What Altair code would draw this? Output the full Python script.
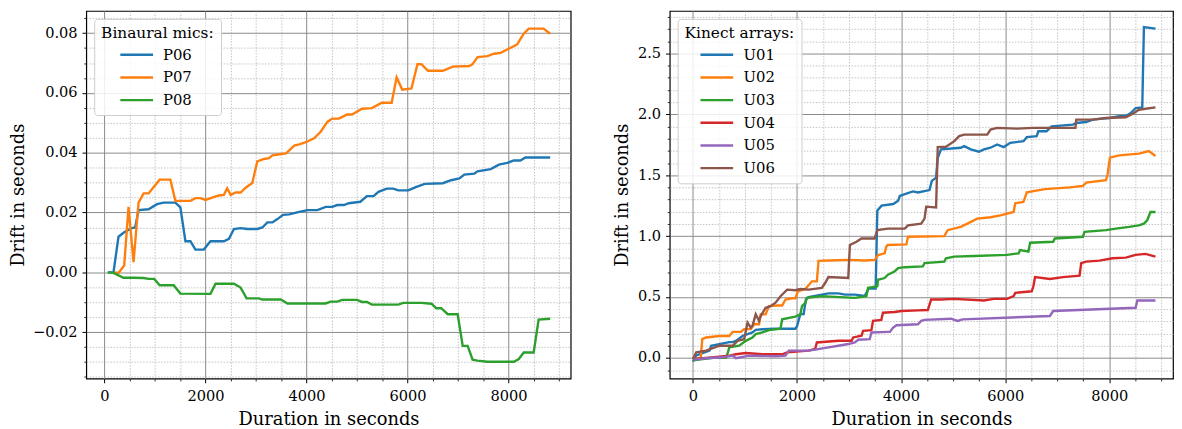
import altair as alt
import pandas as pd
import numpy as np

# ---------------- data ----------------
P06_X = [66, 179, 278, 391, 543, 609, 675, 874, 1040, 1170, 1404, 1503, 1603, 1702, 1801, 1967, 2099, 2364, 2464, 2563,
         2695, 2828, 3026, 3126, 3225, 3325, 3424, 3536, 3656, 3856, 4020, 4216, 4379, 4510, 4608, 4739, 4837, 5065, 5196, 5327,
         5425, 5588, 5719, 5817, 6013, 6176, 6340, 6699, 6863, 7026, 7124, 7320, 7386, 7647, 7810, 7974, 8105, 8235, 8333, 8824]
P06_Y = [0, 0, 0.0119, 0.0134, 0.0148, 0.015, 0.0208, 0.0211, 0.0228, 0.0233, 0.0233, 0.0217, 0.0104, 0.0104, 0.0076,
         0.0076, 0.0104, 0.0104, 0.0112, 0.0145, 0.0148, 0.0145, 0.0145, 0.015, 0.0167, 0.0167, 0.0178, 0.0192, 0.0194, 0.0202,
         0.0208, 0.0208, 0.0219, 0.0219, 0.0225, 0.0225, 0.0231, 0.0236, 0.0255, 0.0255, 0.0269, 0.028, 0.028, 0.0274, 0.0274,
         0.0286, 0.0296, 0.0298, 0.0308, 0.0314, 0.0327, 0.033, 0.0338, 0.0345, 0.036, 0.0366, 0.0374, 0.0374, 0.0384, 0.0384]

P07_X = [200, 278, 391, 477, 576, 675, 775, 874, 987, 1093, 1305, 1404, 1702, 1801, 1901, 2000, 2132, 2265, 2364, 2430,
         2497, 2596, 2695, 2795, 2927, 3026, 3159, 3258, 3325, 3464, 3595, 3758, 3856, 3987, 4150, 4281, 4412, 4510, 4641, 4804,
         4902, 5098, 5294, 5490, 5686, 5784, 5895, 6078, 6196, 6275, 6405, 6699, 6895, 7222, 7288, 7386, 7582, 7712, 7843, 7974,
         8170, 8301, 8399, 8693, 8824]
P07_Y = [0, -0.0002, 0.0023, 0.0219, 0.0034, 0.0233, 0.0264, 0.0264, 0.0288, 0.031, 0.031, 0.0239, 0.0239, 0.0248, 0.0248,
         0.0242, 0.025, 0.0257, 0.0259, 0.0281, 0.0259, 0.0267, 0.0267, 0.0283, 0.0299, 0.0371, 0.0379, 0.0382, 0.0391, 0.0395,
         0.0398, 0.0424, 0.0428, 0.0435, 0.0448, 0.047, 0.0503, 0.0514, 0.0514, 0.0528, 0.0528, 0.0547, 0.0549, 0.0567, 0.0567,
         0.0652, 0.0611, 0.0615, 0.0696, 0.0696, 0.0674, 0.0674, 0.0688, 0.069, 0.0696, 0.072, 0.0723, 0.0731, 0.0734, 0.0745,
         0.0762, 0.0798, 0.0815, 0.0815, 0.0798]

P08_X = [66, 179, 278, 377, 576, 775, 874, 987, 1093, 1371, 1503, 2099, 2199, 2563, 2695, 2815, 3060, 3126, 3490, 3623,
         4379, 4477, 4608, 4706, 5000, 5098, 5196, 5294, 5817, 5915, 6275, 6471, 6569, 6667, 6797, 6993, 7092, 7190, 7288, 7386,
         7582, 8105, 8203, 8301, 8497, 8595, 8824]
P08_Y = [0, -0.0002, -0.001, -0.0018, -0.0018, -0.0019, -0.0022, -0.0022, -0.0043, -0.0043, -0.0071, -0.0072, -0.0038,
         -0.0038, -0.0051, -0.0087, -0.0087, -0.0091, -0.0091, -0.0104, -0.0104, -0.0098, -0.0098, -0.0092, -0.0092, -0.0099,
         -0.0099, -0.0108, -0.0108, -0.0102, -0.0102, -0.0105, -0.012, -0.012, -0.014, -0.014, -0.0246, -0.0246, -0.0292,
         -0.0295, -0.0299, -0.0299, -0.029, -0.0268, -0.0268, -0.0158, -0.0155]

U01_X = [0, 63, 317, 349, 698, 762, 825, 952, 1143, 1206, 1333, 1587, 1968, 2000, 2063, 2127, 2171, 2222, 2349, 2603,
         2794, 2921, 3111, 3302, 3378, 3511, 3543, 3626, 3848, 3943, 3975, 4101, 4228, 4323, 4545, 4590, 4672, 4704, 4767, 5147,
         5211, 5338, 5496, 5591, 5718, 5845, 5971, 6098, 6352, 6415, 6605, 6637, 6795, 6891, 7303, 7366, 7556, 7683, 7873, 8000,
         8190, 8317, 8412, 8507, 8634, 8666, 8888]
U01_Y = [-0.03, 0.02, 0.06, 0.1, 0.13, 0.13, 0.14, 0.18, 0.21, 0.23, 0.235, 0.24, 0.24, 0.26, 0.36, 0.36, 0.48, 0.5, 0.51,
         0.53, 0.53, 0.52, 0.52, 0.51, 0.57, 0.57, 1.21, 1.25, 1.264, 1.29, 1.33, 1.35, 1.367, 1.359, 1.378, 1.454, 1.48, 1.644,
         1.712, 1.726, 1.739, 1.712, 1.693, 1.712, 1.726, 1.753, 1.731, 1.766, 1.78, 1.813, 1.821, 1.861, 1.861, 1.902, 1.916,
         1.929, 1.937, 1.957, 1.965, 1.97, 1.984, 1.984, 2.011, 2.052, 2.057, 2.717, 2.704]

U02_X = [0, 150, 178, 254, 508, 698, 762, 921, 984, 1111, 1175, 1270, 1302, 1397, 1460, 1619, 1714, 1778, 1905, 1968,
         2019, 2159, 2286, 2381, 2413, 2603, 2984, 3302, 3492, 3556, 3683, 3714, 3740, 4101, 4133, 4830, 4894, 5147, 5274, 5464,
         5718, 5908, 6162, 6193, 6350, 6415, 6764, 7239, 7493, 7556, 7937, 7968, 8013, 8190, 8570, 8761, 8888]
U02_Y = [-0.01, 0.0, 0.154, 0.168, 0.18, 0.18, 0.214, 0.214, 0.236, 0.236, 0.276, 0.276, 0.358, 0.358, 0.425, 0.43, 0.43,
         0.48, 0.49, 0.49, 0.547, 0.566, 0.629, 0.629, 0.797, 0.8, 0.805, 0.8, 0.805, 0.845, 0.859, 0.913, 0.927, 0.932, 0.995,
         1.0, 1.049, 1.076, 1.103, 1.144, 1.155, 1.171, 1.198, 1.27, 1.28, 1.359, 1.386, 1.4, 1.413, 1.44, 1.459, 1.508, 1.644,
         1.663, 1.677, 1.698, 1.658]

U03_X = [0, 380, 635, 667, 698, 889, 1016, 1143, 1206, 1333, 1460, 1683, 1714, 1968, 2063, 2095, 2159, 2190, 2476, 2730,
         3111, 3333, 3365, 3543, 3556, 3683, 3746, 3873, 3943, 4070, 4418, 4450, 4830, 4862, 5021, 5401, 6035, 6257, 6288, 6447,
         6479, 6922, 6954, 7493, 7525, 7937, 8127, 8380, 8570, 8666, 8729, 8792, 8888]
U03_Y = [-0.02, 0.0, 0.0, 0.04, 0.087, 0.1, 0.14, 0.168, 0.195, 0.209, 0.228, 0.241, 0.317, 0.339, 0.358, 0.425, 0.453,
         0.493, 0.507, 0.501, 0.493, 0.507, 0.575, 0.588, 0.642, 0.656, 0.683, 0.71, 0.737, 0.745, 0.751, 0.778, 0.791, 0.818,
         0.832, 0.837, 0.846, 0.859, 0.886, 0.873, 0.946, 0.954, 0.981, 0.995, 1.035, 1.049, 1.062, 1.076, 1.089, 1.103, 1.13,
         1.198, 1.198]

U04_X = [0, 698, 825, 1016, 1333, 1714, 1810, 2222, 2349, 2381, 2794, 3048, 3079, 3238, 3270, 3429, 3460, 3619, 3651, 3873,
         4006, 4323, 4513, 4577, 4767, 5021, 5591, 5781, 6035, 6162, 6193, 6510, 6542, 6574, 6859, 7112, 7429, 7461, 7556, 7810,
         8063, 8317, 8507, 8697, 8888]
U04_Y = [-0.01, 0.019, 0.03, 0.04, 0.03, 0.03, 0.046, 0.06, 0.073, 0.127, 0.141, 0.141, 0.168, 0.182, 0.222, 0.228, 0.304,
         0.312, 0.371, 0.377, 0.385, 0.39, 0.393, 0.48, 0.48, 0.485, 0.472, 0.485, 0.485, 0.507, 0.534, 0.547, 0.588, 0.664,
         0.648, 0.664, 0.675, 0.778, 0.791, 0.799, 0.818, 0.824, 0.846, 0.854, 0.832]

U05_X = [0, 254, 571, 762, 825, 1079, 1587, 1778, 1841, 2222, 2349, 2603, 2794, 2984, 3111, 3175, 3397, 3429, 3746, 3784,
         3848, 3911, 4323, 4386, 4450, 4957, 5084, 5179, 6859, 6922, 8507, 8539, 8888]
U05_Y = [-0.014, -0.003, 0.005, 0.019, -0.003, 0.019, 0.014, 0.019, 0.06, 0.06, 0.068, 0.087, 0.1, 0.114, 0.127, 0.149,
         0.154, 0.209, 0.214, 0.214, 0.249, 0.268, 0.276, 0.304, 0.312, 0.322, 0.304, 0.317, 0.344, 0.385, 0.412, 0.472, 0.472]

U06_X = [0, 63, 254, 508, 762, 857, 984, 1048, 1111, 1143, 1206, 1270, 1302, 1397, 1492, 1587, 1683, 1810, 1968, 2063,
         2222, 2476, 2540, 2603, 2984, 3016, 3143, 3238, 3492, 3543, 3746, 4070, 4133, 4386, 4450, 4482, 4672, 4704, 4862, 5021,
         5116, 5211, 5655, 5718, 5845, 6225, 6542, 6795, 7350, 7366, 7683, 7937, 8317, 8444, 8570, 8697, 8888]
U06_Y = [-0.01, 0.046, 0.06, 0.1, 0.1, 0.14, 0.154, 0.29, 0.249, 0.263, 0.358, 0.304, 0.344, 0.412, 0.425, 0.453, 0.507,
         0.561, 0.556, 0.566, 0.561, 0.575, 0.615, 0.664, 0.656, 0.927, 0.954, 0.981, 0.981, 1.049, 1.062, 1.062, 1.089, 1.103,
         1.144, 1.242, 1.236, 1.731, 1.734, 1.78, 1.821, 1.834, 1.834, 1.875, 1.889, 1.883, 1.889, 1.889, 1.889, 1.957, 1.957,
         1.97, 1.976, 2.003, 2.038, 2.046, 2.057]

LEFT_NAMES = ["P06", "P07", "P08"]
RIGHT_NAMES = ["U01", "U02", "U03", "U04", "U05", "U06"]
COLORS = ["#1f77b4", "#ff7f0e", "#2ca02c", "#d62728", "#9467bd", "#8c564b"]

X_MAJOR = [0, 2000, 4000, 6000, 8000]
LEFT_Y_MAJOR = [-0.02, 0.0, 0.02, 0.04, 0.06, 0.08]
RIGHT_Y_MAJOR = [0.0, 0.5, 1.0, 1.5, 2.0, 2.5]

LEFT_X_DOMAIN = [-360, 9230]
LEFT_Y_DOMAIN = [-0.0355, 0.0874]
RIGHT_X_DOMAIN = [-446, 9225]
RIGHT_Y_DOMAIN = [-0.169, 2.849]

FONT = "DejaVu Serif"


def build_frame(names, xs, ys):
    rows = []
    for n, xv, yv in zip(names, xs, ys):
        assert len(xv) == len(yv), n
        for i, (a, b) in enumerate(zip(xv, yv)):
            rows.append({"series": n, "t": a, "drift": b, "i": i})
    return pd.DataFrame(rows)


def minor_values(lo, hi, step, majors):
    vals = np.arange(np.ceil(lo / step) * step, hi + 1e-12, step)
    out = []
    for v in vals:
        v = round(float(v), 6)
        if all(abs(v - m) > step * 1e-3 for m in majors):
            out.append(v)
    return out


def major_axis(orient, values, fmt, title, label_pad, title_pad):
    return alt.Axis(orient=orient, values=values, format=fmt, title=title,
                    grid=True, gridColor="#8a8a8a", gridWidth=1, gridOpacity=1,
                    domain=False, ticks=True, tickSize=4.3, tickColor="black", tickWidth=1,
                    labelFont=FONT, labelFontSize=14.7, labelColor="black", labelPadding=label_pad,
                    labelOverlap=False, labelFlush=False,
                    titleFont=FONT, titleFontSize=18, titleFontWeight="normal", titleColor="black",
                    titlePadding=title_pad)


def minor_axis(orient, values):
    return alt.Axis(orient=orient, values=values, labels=False, title=None,
                    grid=True, gridColor="#b4b4b4", gridDash=[1.5, 1.5], gridWidth=0.8, gridOpacity=1,
                    domain=False, ticks=True, tickSize=2.5, tickColor="black", tickWidth=0.8)


def panel(names, colors, xs, ys, xdom, ydom, ymaj, yfmt, xstep, ystep, legend_title,
          sym_offset, label_offset, width, height):
    df = build_frame(names, xs, ys)
    xsc = alt.Scale(domain=xdom, nice=False, zero=False)
    ysc = alt.Scale(domain=ydom, nice=False, zero=False)
    xmin = minor_values(xdom[0], xdom[1], xstep, X_MAJOR)
    ymin = minor_values(ydom[0], ydom[1], ystep, ymaj)
    minor = alt.Chart(df).mark_point(opacity=0, size=1).encode(
        x=alt.X("t:Q", scale=xsc, axis=minor_axis("bottom", xmin)),
        y=alt.Y("drift:Q", scale=ysc, axis=minor_axis("left", ymin)),
    )
    lines = alt.Chart(df).mark_line(strokeWidth=2.4, clip=True).encode(
        x=alt.X("t:Q", scale=xsc, axis=major_axis("bottom", X_MAJOR, "d", "Duration in seconds", 6, 7)),
        y=alt.Y("drift:Q", scale=ysc, axis=major_axis("left", ymaj, yfmt, "Drift in seconds", 5, 5.5)),
        color=alt.Color("series:N", scale=alt.Scale(domain=names, range=colors),
                        legend=alt.Legend(title=legend_title, orient="top-left", offset=7.5, padding=7,
                                          fillColor="rgba(255,255,255,0.85)", strokeColor="#cccccc",
                                          cornerRadius=3, titleFont=FONT, titleFontSize=15.5,
                                          titleFontWeight="normal", titleColor="black", titlePadding=6.2,
                                          labelFont=FONT, labelFontSize=15, labelColor="black",
                                          labelOffset=label_offset, symbolType="M-3,0H3", symbolSize=121,
                                          symbolStrokeWidth=2.4, symbolOffset=sym_offset, rowPadding=6.9)),
        order=alt.Order("i:Q"),
    )
    return alt.layer(minor, lines).resolve_axis(x="independent", y="independent").properties(
        width=width, height=height)


left = panel(LEFT_NAMES, COLORS[:3], [P06_X, P07_X, P08_X], [P06_Y, P07_Y, P08_Y],
             LEFT_X_DOMAIN, LEFT_Y_DOMAIN, LEFT_Y_MAJOR, ".2f", 500, 0.005, "Binaural mics:",
             28.4, 19.0, 489, 371)
right = panel(RIGHT_NAMES, COLORS, [U01_X, U02_X, U03_X, U04_X, U05_X, U06_X],
              [U01_Y, U02_Y, U03_Y, U04_Y, U05_Y, U06_Y],
              RIGHT_X_DOMAIN, RIGHT_Y_DOMAIN, RIGHT_Y_MAJOR, ".1f", 500, 0.1, "Kinect arrays:",
              25.0, 19.5, 508, 371)

chart = alt.hconcat(left, right, spacing=42).resolve_scale(color="independent").properties(
    padding=0, background="white"
).configure(font=FONT).configure_view(stroke="black", strokeWidth=1.2)

chart.save("out.html", embed_options={"renderer": "svg", "actions": False})
